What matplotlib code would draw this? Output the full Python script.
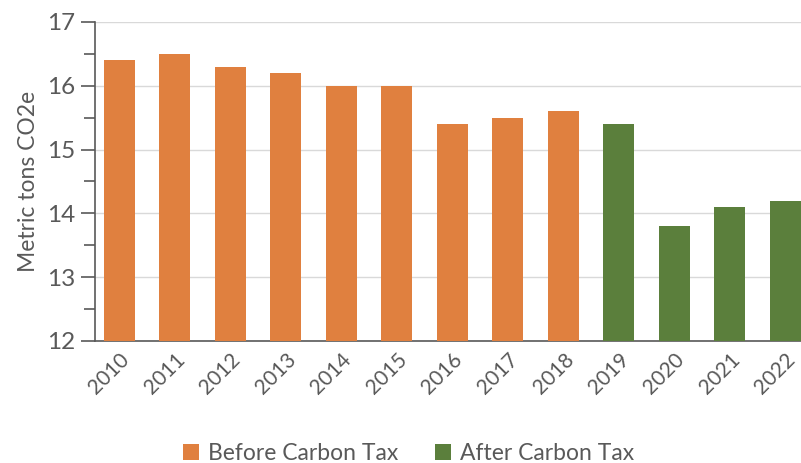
import matplotlib.pyplot as plt
from matplotlib.ticker import MultipleLocator

# Per-capita emissions
years_before = ["2010", "2011", "2012", "2013", "2014", "2015", "2016", "2017", "2018"]
values_before = [16.4, 16.5, 16.3, 16.2, 16.0, 16.0, 15.4, 15.5, 15.6]
years_after = ["2019", "2020", "2021", "2022"]
values_after = [15.4, 13.8, 14.1, 14.2]

ORANGE = "#E0803F"
GREEN = "#5B7F3C"
TEXT = "#595959"

plt.rcParams["font.family"] = ["Lato", "DejaVu Sans"]

fig = plt.figure(figsize=(8.01, 4.63), dpi=100)
ax = fig.add_axes([0.1186, 0.2635, 0.8814, 0.6890])

ax.bar(years_before, values_before, width=0.56, color=ORANGE, label="Before Carbon Tax", zorder=3)
ax.bar(years_after, values_after, width=0.56, color=GREEN, label="After Carbon Tax", zorder=3)

ax.set_ylim(12, 17)
ax.set_xlim(-0.44, 12.28)
ax.yaxis.set_major_locator(MultipleLocator(1))
ax.yaxis.set_minor_locator(MultipleLocator(0.5))
ax.grid(axis="y", color="#D9D9D9", linewidth=1, zorder=0)

for side in ["top", "right"]:
    ax.spines[side].set_visible(False)
for side in ["left", "bottom"]:
    ax.spines[side].set_color("#595959")
    ax.spines[side].set_linewidth(1.2)

ax.tick_params(axis="y", which="major", length=10, width=1.2, color="#595959",
               labelsize=17.5, labelcolor=TEXT, pad=4)
ax.tick_params(axis="y", which="minor", length=8, width=1.2, color="#595959")
ax.tick_params(axis="x", length=0, labelsize=15, labelcolor=TEXT, pad=6)
plt.setp(ax.get_xticklabels(), rotation=45, ha="right", rotation_mode="anchor")

ax.set_ylabel("Metric tons CO2e", fontsize=16.5, color=TEXT, labelpad=6)

ax.legend(loc="upper center", bbox_to_anchor=(0.444, -0.255), ncol=2, frameon=False,
          fontsize=16.5, labelcolor=TEXT, handlelength=0.7, handleheight=0.7,
          handletextpad=0.4, columnspacing=1.6)

plt.savefig("out.png", dpi=100)
